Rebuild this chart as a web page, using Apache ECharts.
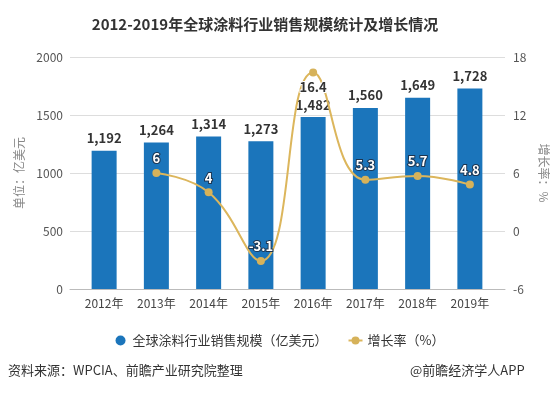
<!DOCTYPE html>
<html><head><meta charset="utf-8">
<script src="https://cdn.jsdelivr.net/npm/echarts@6/dist/echarts.min.js"></script>
<style>html,body{margin:0;padding:0;background:#fff}#c{width:560px;height:396px}</style>
</head><body><div id="c"></div>
<script>
const years = ['2012年','2013年','2014年','2015年','2016年','2017年','2018年','2019年'];
const sales = [1192, 1264, 1314, 1273, 1482, 1560, 1649, 1728];
const growth = [null, 6, 4, -3.1, 16.4, 5.3, 5.7, 4.8];
const leftTicks = {min: 0, max: 2000, interval: 500};
const rightTicks = {min: -6, max: 18, interval: 6};
const seriesNames = ['全球涂料行业销售规模（亿美元）', '增长率（%）'];

const chart = echarts.init(document.getElementById('c'));
const font = 'Microsoft YaHei, "Noto Sans CJK SC", sans-serif';
const growthData = growth.map((v, i) => i === 4
  ? {value: v, label: {position: 'bottom', color: '#333', textBorderColor: '#fff'}}
  : v);
chart.setOption({
  animation: false,
  textStyle: {fontFamily: font},
  title: {
    text: '2012-2019年全球涂料行业销售规模统计及增长情况',
    left: 260, top: 12, textAlign: 'center',
    textStyle: {fontSize: 15, fontWeight: 'bold', color: '#333', fontFamily: font}
  },
  legend: {
    top: 329, left: 'center',
    itemWidth: 14, itemHeight: 10, itemGap: 20,
    textStyle: {fontSize: 13, color: '#333', fontFamily: font},
    data: [{name: seriesNames[0], icon: 'circle'}, {name: seriesNames[1]}]
  },
  grid: [
    {left: 70, right: 55, top: 57, bottom: 107},
    {left: 78, right: 64, top: 57, bottom: 107}
  ],
  xAxis: [
    {type: 'category', gridIndex: 0, data: years, axisLabel: {show: false}, axisTick: {show: false},
     axisLine: {lineStyle: {color: '#bbb'}}},
    {type: 'category', gridIndex: 1, data: years,
     axisLine: {show: false},
     axisTick: {show: false},
     axisLabel: {color: '#444', fontSize: 12, margin: 8}}
  ],
  yAxis: [
    {type: 'value', gridIndex: 0, position: 'left', ...leftTicks,
     name: '单位：亿美元', nameLocation: 'middle', nameGap: 45, nameRotate: 90,
     nameTextStyle: {color: '#888', fontSize: 12},
     axisLine: {show: false}, axisTick: {show: false},
     axisLabel: {color: '#555', fontSize: 12, margin: 7, formatter: v => String(v)},
     splitLine: {lineStyle: {color: '#ddd'}}},
    {type: 'value', gridIndex: 0, position: 'right', ...rightTicks,
     name: '增长率：%', nameLocation: 'middle', nameGap: 26, nameRotate: -90,
     nameTextStyle: {color: '#888', fontSize: 12},
     axisLine: {show: false}, axisTick: {show: false},
     axisLabel: {color: '#555', fontSize: 12, margin: 8},
     splitLine: {show: false}},
    {type: 'value', gridIndex: 1, ...leftTicks, show: false},
    {type: 'value', gridIndex: 1, ...rightTicks, show: false}
  ],
  series: [
    {name: seriesNames[0], type: 'bar', xAxisIndex: 1, yAxisIndex: 2, data: sales,
     barWidth: 25, itemStyle: {color: '#1b75bb'},
     label: {show: true, position: 'top', distance: 6, color: '#333', fontWeight: 'bold', fontSize: 13,
       formatter: p => p.value.toLocaleString('en-US')}},
    {name: seriesNames[1], type: 'line', xAxisIndex: 1, yAxisIndex: 3, data: growthData,
     smooth: 0.45, symbol: 'circle', symbolSize: 8,
     lineStyle: {color: '#dcb65c', width: 2}, itemStyle: {color: '#d6b25a'},
     label: {show: true, position: 'top', distance: 4, color: '#fff', fontSize: 13, fontWeight: 'bold',
       textBorderColor: '#1d3550', textBorderWidth: 2}}
  ],
  graphic: [
    {type: 'text', left: 8, top: 364, style: {text: '资料来源：WPCIA、前瞻产业研究院整理', fill: '#333', fontSize: 13, fontFamily: font}},
    {type: 'text', left: 410, top: 364, style: {text: '@前瞻经济学人APP', fill: '#333', fontSize: 13, fontFamily: font}}
  ]
});
</script></body></html>
